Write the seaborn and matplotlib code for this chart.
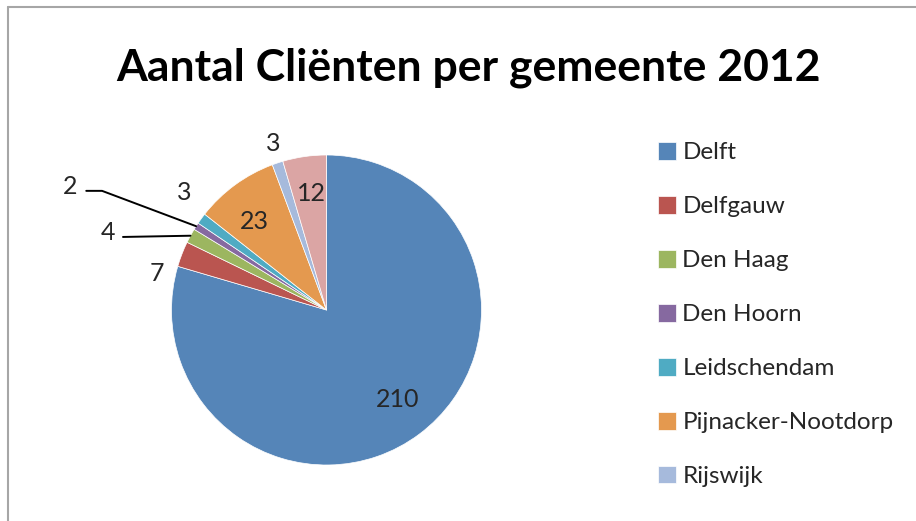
import seaborn as sns
import matplotlib.pyplot as plt
from matplotlib.lines import Line2D
import numpy as np

# Data
gemeenten = ['Delft', 'Delfgauw', 'Den Haag', 'Den Hoorn', 'Leidschendam',
             'Pijnacker-Nootdorp', 'Rijswijk', 'Overig']
clienten = [210, 7, 4, 2, 3, 23, 3, 12]
titel = 'Aantal Cliënten per gemeente 2012'

kleuren = ['#5585B8', '#BA5550', '#9CB660', '#8669A0', '#4FABC3',
           '#E4994F', '#A6BADC', '#DBA5A4']

sns.set_theme(style='white')
plt.rcParams['font.family'] = ['Lato', 'DejaVu Sans']

W, H = 916, 521
fig = plt.figure(figsize=(W / 100, H / 100), dpi=100)

# chart border (only top and left visible)
fig.add_artist(Line2D([8 / W, 1], [1 - 7 / H, 1 - 7 / H], color='#A6A6A6', lw=1.5))
fig.add_artist(Line2D([8 / W, 8 / W], [0, 1 - 7 / H], color='#A6A6A6', lw=1.5))

fig.text(468 / W, 1 - 68 / H, titel, ha='center', va='center',
         fontsize=32, fontweight='bold', color='black')

# pie axes: centre (326.5, 310) px, radius 155 px
R = 155
S = 400
cx, cy = 326.5, 310
ax = fig.add_axes([(cx - S / 2) / W, 1 - (cy + S / 2) / H, S / W, S / H])

wedges, _ = ax.pie(clienten, colors=kleuren, startangle=90, counterclock=False,
                   radius=1, wedgeprops=dict(edgecolor='white', linewidth=0.5))
lim = S / 2 / R
ax.set_xlim(-lim, lim)
ax.set_ylim(-lim, lim)
ax.set_aspect('equal')
ax.axis('off')

# label layout per slice: (distance, angle nudge in degrees)
label_layout = [(0.74, 1.5), (1.12, 9.0), None, None,
                (1.19, -3.5), (0.74, 3.0), (1.13, -0.6), (0.755, -0.6)]
# leader labels: index -> (text x, text dy, line start x, elbow x, line dy)
leaders = {2: (-1.41, 0.018, -1.313, -1.313, -0.008),
           3: (-1.655, 0.254, -1.55, -1.448, 0.228)}

for i, (w, val) in enumerate(zip(wedges, clienten)):
    mid = np.deg2rad((w.theta1 + w.theta2) / 2)
    px, py = np.cos(mid), np.sin(mid)
    if i in leaders:
        tx, tdy, lx, ex, ldy = leaders[i]
        ax.text(tx, py + tdy, str(val), ha='center', va='center', fontsize=18)
        ax.plot([lx, ex, px], [py + ldy, py + ldy, py], color='black', lw=1.4,
                clip_on=False)
    else:
        dist, nudge = label_layout[i]
        a = mid + np.deg2rad(nudge)
        ax.text(dist * np.cos(a), dist * np.sin(a), str(val), ha='center',
                va='center', fontsize=18)

ax.legend(wedges[:7], gemeenten[:7], loc='upper left',
          bbox_to_anchor=(658 / W, 1 - 142 / H), bbox_transform=fig.transFigure,
          frameon=False, fontsize=17.5, labelspacing=1.34, handlelength=0.75,
          handleheight=0.75, handletextpad=0.25, borderaxespad=0, borderpad=0)

fig.savefig('out.png', dpi=100)
